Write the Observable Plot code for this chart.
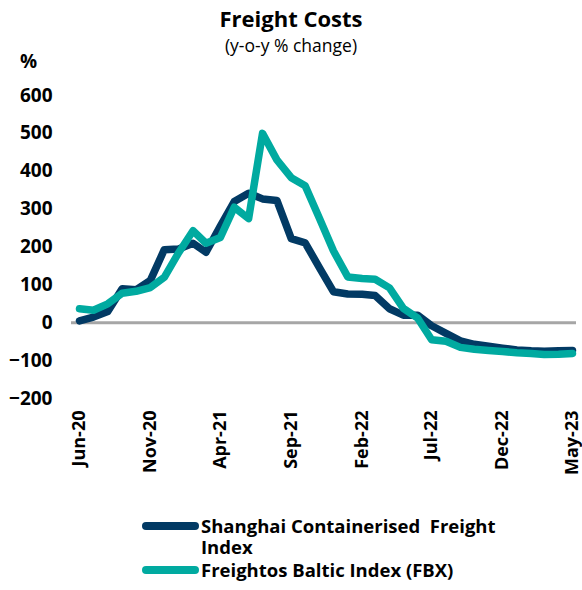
<!DOCTYPE html>
<html>
<head>
<meta charset="utf-8">
<script src="https://cdn.jsdelivr.net/npm/d3@7"></script>
<script src="https://cdn.jsdelivr.net/npm/@observablehq/plot@0.6"></script>
<style>
  html, body { margin: 0; padding: 0; background: #fff; }
  #wrap { position: relative; width: 582px; height: 590px; font-family: "Open Sans", sans-serif; color: #000; }
  #head { position: relative; width: 582px; height: 40px; }
  #title { position: absolute; left: 0; width: 582px; top: 3px; line-height: 30px; text-align: center; font-weight: 700; font-size: 22px; z-index: 2; }
  #subtitle { position: absolute; left: 0; width: 582px; top: 32px; line-height: 26px; text-align: center; font-weight: 400; font-size: 17.5px; z-index: 2; }
  #legend { position: absolute; left: 142px; top: 515px; font-weight: 700; font-size: 18.5px; line-height: 21px; }
  .item { display: flex; align-items: flex-start; }
  .item + .item { margin-top: 2px; }
  .sw { width: 57px; height: 8px; border-radius: 4px; margin-top: 7px; flex: none; }
  .lab { margin-left: 2px; width: 320px; }
</style>
</head>
<body>
<div id="wrap">
  <div id="head">
    <div id="title">Freight Costs</div>
    <div id="subtitle">(y-o-y % change)</div>
  </div>
  <div id="chart"></div>
  <div id="legend"></div>
</div>
<script>
// ---- data ----
const months = [
  "2020-06","2020-07","2020-08","2020-09","2020-10","2020-11","2020-12",
  "2021-01","2021-02","2021-03","2021-04","2021-05","2021-06","2021-07","2021-08","2021-09","2021-10","2021-11","2021-12",
  "2022-01","2022-02","2022-03","2022-04","2022-05","2022-06","2022-07","2022-08","2022-09","2022-10","2022-11","2022-12",
  "2023-01","2023-02","2023-03","2023-04","2023-05"
];
const seriesNames = ["Shanghai Containerised  Freight Index", "Freightos Baltic Index (FBX)"];
const seriesColors = ["#023a64", "#00aaa0"];
const scfi = [
  5, 15, 30, 90, 87, 112, 193,
  195, 210, 186, 255, 320, 342, 327, 323, 222, 211, 145, 82,
  76, 75, 72, 37, 20, 20, -8, -28, -48, -57, -62, -67,
  -72, -74, -75, -74, -73
];
const fbx = [
  37, 33, 50, 78, 83, 93, 120,
  185, 243, 210, 225, 305, 275, 500, 430, 383, 362, 275, 190,
  121, 117, 115, 92, 38, 12, -45, -49, -65, -70, -73, -76,
  -79, -81, -84, -83, -81
];
const xTickLabels = ["Jun-20","Nov-20","Apr-21","Sep-21","Feb-22","Jul-22","Dec-22","May-23"];
const yTicks = [-200, -100, 0, 100, 200, 300, 400, 500, 600];

// ---- build table ----
const parse = d3.utcParse("%Y-%m");
const rows = [];
months.forEach((m, i) => {
  rows.push({date: parse(m), value: scfi[i], series: seriesNames[0]});
  rows.push({date: parse(m), value: fbx[i], series: seriesNames[1]});
});
const fmt = d3.utcFormat("%b-%y");
const xTicks = months.map(parse).filter(d => xTickLabels.includes(fmt(d)));

const chart = Plot.plot({
  width: 582,
  height: 450,
  marginLeft: 71,
  marginRight: 6,
  marginTop: 55,
  marginBottom: 92,
  style: {fontFamily: "'Open Sans', sans-serif", fontSize: "19px", fontWeight: 700, color: "#000", background: "transparent", overflow: "visible"},
  x: {
    type: "utc",
    domain: [parse(months[0]), parse(months[months.length - 1])],
    insetLeft: 8, insetRight: 4
  },
  y: {
    domain: [-200, 600]
  },
  marks: [
    Plot.axisX({ticks: xTicks, tickFormat: fmt, tickRotate: -90, tickSize: 0, tickPadding: 12, fontSize: 18, label: null}),
    Plot.axisY({ticks: yTicks, tickSize: 0, tickPadding: 19, fontSize: 19, label: null}),
    Plot.ruleY([0], {stroke: "#a6a6a6", strokeWidth: 3}),
    Plot.line(rows.filter(d => d.series === seriesNames[0]), {x: "date", y: "value", stroke: seriesColors[0], strokeWidth: 7.5, strokeLinejoin: "round", strokeLinecap: "round"}),
    Plot.line(rows.filter(d => d.series === seriesNames[1]), {x: "date", y: "value", stroke: seriesColors[1], strokeWidth: 7.5, strokeLinejoin: "round", strokeLinecap: "round"}),
    Plot.text(["%"], {frameAnchor: "top-left", text: d => d, dx: -43, dy: -34, textAnchor: "middle", lineAnchor: "middle", fontSize: 19, fontWeight: 700, fill: "#000"})
  ]
});
document.getElementById("chart").appendChild(chart);

const legend = document.getElementById("legend");
seriesNames.forEach((name, i) => {
  const item = document.createElement("div");
  item.className = "item";
  const sw = document.createElement("div");
  sw.className = "sw";
  sw.style.background = seriesColors[i];
  const lab = document.createElement("div");
  lab.className = "lab";
  lab.textContent = name;
  lab.style.whiteSpace = "pre-wrap";
  item.appendChild(sw);
  item.appendChild(lab);
  legend.appendChild(item);
});
</script>
</body>
</html>
